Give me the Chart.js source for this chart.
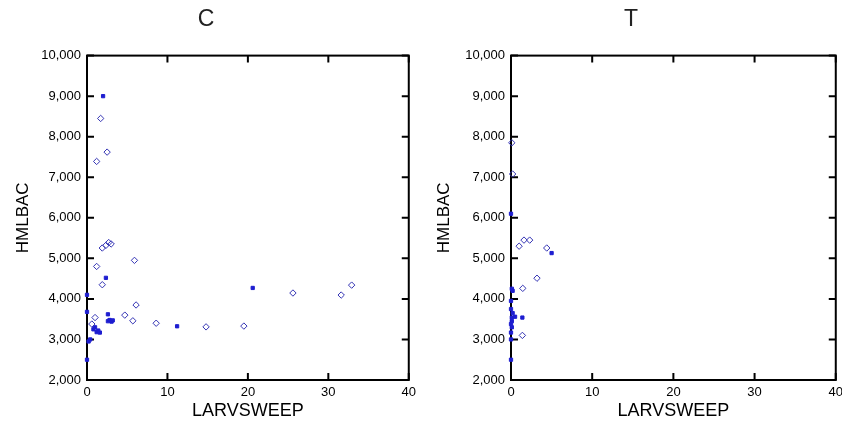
<!DOCTYPE html>
<html>
<head>
<meta charset="utf-8">
<script src="https://cdn.jsdelivr.net/npm/chart.js@4"></script>
<style>
  body { margin: 0; background: #fff; overflow: hidden; }
  .panel { position: absolute; top: 0; }
</style>
</head>
<body>
<canvas id="chartC" class="panel" width="421" height="422" style="left:0"></canvas>
<canvas id="chartT" class="panel" width="427" height="422" style="left:421px"></canvas>
<script>
// Panel C - hollow diamonds
const cOpenX = [1.7, 2.5, 1.2, 1.9, 2.35, 2.7, 3.0, 5.9, 1.2, 1.9, 6.1, 4.7, 5.7, 8.6, 14.8, 19.5, 1.0, 0.6, 25.6, 31.6, 32.9];
const cOpenY = [8450, 7620, 7390, 5255, 5320, 5390, 5355, 4950, 4800, 4350, 3850, 3600, 3460, 3400, 3310, 3330, 3540, 3380, 4145, 4095, 4340];
// Panel C - filled squares
const cFillX = [2.0, 2.35, 0, 0, 2.6, 2.6, 3.05, 2.8, 3.2, 11.2, 20.6, 0.8, 1.2, 1.6, 1.0, 1.4, 0.4, 0.2, 0];
const cFillY = [9000, 4520, 4100, 3680, 3620, 3450, 3440, 3480, 3470, 3325, 4270, 3250, 3180, 3170, 3300, 3220, 3000, 2950, 2500];

// Panel T - hollow diamonds
const tOpenX = [0.1, 0.2, 1.0, 1.6, 2.3, 4.4, 3.2, 1.45, 1.4];
const tOpenY = [7850, 7080, 5300, 5450, 5450, 5255, 4510, 4260, 3100];
// Panel T - filled squares
const tFillX = [0, 5.0, 0.1, 0.2, 0, 0, 0.1, 1.4, 0.5, 0.1, 0, 0, 0, 0.1, 0, 0.2];
const tFillY = [6100, 5130, 4250, 4200, 3950, 3750, 3540, 3540, 3560, 3450, 3380, 3170, 3000, 3300, 2500, 3650];

const xTicks = [0, 10, 20, 30, 40];
const yTicks = [2000, 3000, 4000, 5000, 6000, 7000, 8000, 9000, 10000];

const toPts = (xs, ys) => xs.map((x, i) => ({ x: x, y: ys[i] }));

// box round the plot with ticks pointing inwards
const frameTicks = {
  id: 'frameTicks',
  beforeDatasetsDraw(chart) {
    const ctx = chart.ctx;
    const a = chart.chartArea;
    const xs = chart.scales.x, ys = chart.scales.y;
    const len = 7;
    ctx.save();
    ctx.strokeStyle = '#000';
    ctx.lineWidth = 2;
    ctx.strokeRect(a.left, a.top, a.right - a.left, a.bottom - a.top);
    ctx.beginPath();
    xs.ticks.forEach((t, i) => {
      const px = xs.getPixelForTick(i);
      ctx.moveTo(px, a.bottom); ctx.lineTo(px, a.bottom - len);
      ctx.moveTo(px, a.top); ctx.lineTo(px, a.top + len);
    });
    ys.ticks.forEach((t, i) => {
      const py = ys.getPixelForTick(i);
      ctx.moveTo(a.left, py); ctx.lineTo(a.left + len, py);
      ctx.moveTo(a.right, py); ctx.lineTo(a.right - len, py);
    });
    ctx.stroke();
    ctx.restore();
  }
};

function drawPanel(id, title, openPts, fillPts, yWidth, padRight) {
  new Chart(document.getElementById(id), {
    type: 'scatter',
    data: {
      datasets: [{
        data: openPts,
        clip: 6,
        pointStyle: 'rectRot',
        pointRadius: 3.2,
        borderWidth: 1,
        borderColor: '#3434b4',
        backgroundColor: 'rgba(255,255,255,0)'
      }, {
        data: fillPts,
        clip: 6,
        pointStyle: 'rect',
        pointRadius: 2.3,
        borderWidth: 1,
        borderColor: '#1e1ed0',
        backgroundColor: '#1e1ed0'
      }]
    },
    options: {
      responsive: false,
      animation: false,
      layout: { padding: { left: 0, right: padRight, top: 0, bottom: 0 } },
      scales: {
        x: {
          type: 'linear',
          min: 0,
          max: 40,
          afterBuildTicks: (s) => { s.ticks = xTicks.map(v => ({ value: v })); },
          afterFit: (s) => { s.height = 42; },
          grid: { display: false, drawTicks: false },
          border: { display: false },
          ticks: { padding: 5, color: '#000', font: { family: 'Liberation Sans', size: 13 } },
          title: {
            display: true,
            text: 'LARVSWEEP',
            color: '#000',
            padding: { top: 0, bottom: 0 },
            font: { family: 'Liberation Sans', size: 18 }
          }
        },
        y: {
          type: 'linear',
          min: 2000,
          max: 10000,
          afterBuildTicks: (s) => { s.ticks = yTicks.map(v => ({ value: v })); },
          afterFit: (s) => { s.width = yWidth; },
          grid: { display: false, drawTicks: false },
          border: { display: false },
          ticks: {
            padding: 6,
            color: '#000',
            font: { family: 'Liberation Sans', size: 13 },
            callback: (v) => v.toLocaleString('en-US')
          },
          title: {
            display: true,
            text: 'HMLBAC',
            color: '#000',
            padding: { top: 13, bottom: 0 },
            font: { family: 'Liberation Sans', size: 17 }
          }
        }
      },
      plugins: {
        legend: { display: false },
        tooltip: { enabled: false },
        title: {
          display: true,
          text: title,
          color: '#222',
          padding: { top: 6, bottom: 22 },
          font: { family: "'Liberation Sans Narrow', 'Liberation Sans'", size: 23, weight: 'normal' }
        }
      }
    },
    plugins: [frameTicks]
  });
}

drawPanel('chartC', 'C', toPts(cOpenX, cOpenY), toPts(cFillX, cFillY), 87, 9);
drawPanel('chartT', 'T', toPts(tOpenX, tOpenY), toPts(tFillX, tFillY), 90, 7);
</script>
</body>
</html>
